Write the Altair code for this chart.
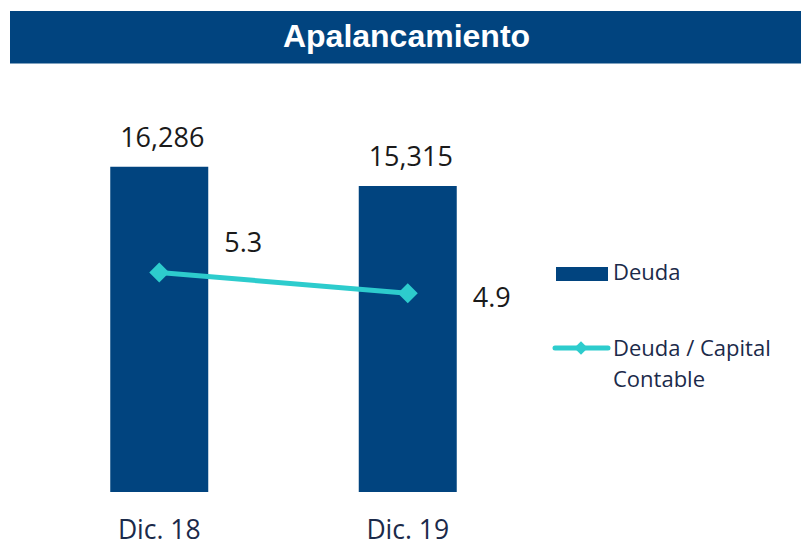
import altair as alt
import pandas as pd

periodos = ["Dic. 18", "Dic. 19"]
deuda = [16286, 15315]
deuda_lbl = ["16,286", "15,315"]
ratio = [5.3, 4.9]
ratio_lbl = ["5.3", "4.9"]
titulo = "Apalancamiento"
serie_barra = "Deuda"
serie_linea = ["Deuda / Capital", "Contable"]

NAVY = "#01447f"
AQUA = "#2dcccd"
TXT = "#1b2a4a"
FONT = "Open Sans"

df = pd.DataFrame({"periodo": periodos, "deuda": deuda, "deuda_lbl": deuda_lbl,
                   "ratio": ratio, "ratio_lbl": ratio_lbl})

xenc = alt.X("periodo:N", sort=periodos,
             scale=alt.Scale(range=[35, 532], paddingInner=0, paddingOuter=0),
             axis=alt.Axis(title=None, domain=False, ticks=False, tickSize=0, labelAngle=0,
                           labelFontSize=26.5, labelFont=FONT, labelColor=TXT,
                           labelBaseline="alphabetic", labelPadding=46))

ybar = alt.Y("deuda:Q", scale=alt.Scale(domain=[0, 24630]), axis=None)
yline = alt.Y("ratio:Q", scale=alt.Scale(domain=[1.04, 10.59]), axis=None)

base = alt.Chart(df)
bars = base.mark_bar(size=98, color=NAVY).encode(x=xenc, y=ybar)
bar_lbl = base.mark_text(fontSize=27, font=FONT, color="#1a1a1a", baseline="alphabetic",
                         dy=-20, dx=3).encode(x=xenc, y=ybar, text="deuda_lbl:N")
bar_layer = alt.layer(bars, bar_lbl)

line = base.mark_line(color=AQUA, strokeWidth=5).encode(x=xenc, y=yline)
pts = base.mark_point(shape="diamond", filled=True, size=400, color=AQUA, opacity=1).encode(x=xenc, y=yline)
lbl1 = base.transform_filter(alt.datum.periodo == periodos[0]).mark_text(
    fontSize=27, font=FONT, color="#1a1a1a", baseline="alphabetic", dx=84, dy=-21
).encode(x=xenc, y=yline, text="ratio_lbl:N")
lbl2 = base.transform_filter(alt.datum.periodo == periodos[1]).mark_text(
    fontSize=27, font=FONT, color="#1a1a1a", baseline="alphabetic", dx=84, dy=14
).encode(x=xenc, y=yline, text="ratio_lbl:N")
line_layer = alt.layer(line, pts, lbl1, lbl2)

one = pd.DataFrame({"k": [0]})
band = alt.Chart(one).mark_rect(color=NAVY).encode(
    x=alt.value(10), x2=alt.value(801), y=alt.value(11), y2=alt.value(63.5))
ttl = alt.Chart(pd.DataFrame({"t": [titulo]})).mark_text(
    font="Liberation Sans", fontWeight="bold", fontSize=32, color="white",
    baseline="alphabetic", align="center").encode(
    x=alt.value(406.5), y=alt.value(47), text="t:N")

leg_rect = alt.Chart(one).mark_rect(color=NAVY).encode(
    x=alt.value(556), x2=alt.value(608), y=alt.value(267), y2=alt.value(281))
leg_t1 = alt.Chart(pd.DataFrame({"t": [serie_barra]})).mark_text(
    font=FONT, fontSize=22, color=TXT, align="left", baseline="alphabetic").encode(
    x=alt.value(613), y=alt.value(280), text="t:N")
leg_line = alt.Chart(one).mark_rule(color=AQUA, strokeWidth=5, strokeCap="round").encode(
    x=alt.value(555), x2=alt.value(608), y=alt.value(348))
leg_pt = alt.Chart(one).mark_point(shape="diamond", filled=True, size=180, color=AQUA, opacity=1).encode(
    x=alt.value(581), y=alt.value(348))
leg_t2 = alt.Chart(pd.DataFrame({"t": [serie_linea[0]]})).mark_text(
    font=FONT, fontSize=22, color=TXT, align="left", baseline="alphabetic").encode(
    x=alt.value(613), y=alt.value(356), text="t:N")
leg_t3 = alt.Chart(pd.DataFrame({"t": [serie_linea[1]]})).mark_text(
    font=FONT, fontSize=22, color=TXT, align="left", baseline="alphabetic").encode(
    x=alt.value(613), y=alt.value(387), text="t:N")

chart = alt.layer(
    bar_layer, line_layer, band, ttl, leg_rect, leg_t1, leg_line, leg_pt, leg_t2, leg_t3
).resolve_scale(y="independent").properties(
    width=801, height=492,
    padding={"left": 0, "right": 0, "top": 0, "bottom": 53},
    autosize=alt.AutoSizeParams(type="none"),
    background="white",
).configure_view(stroke=None)

chart.save("out.html", embed_options={"renderer": "svg", "actions": False})
